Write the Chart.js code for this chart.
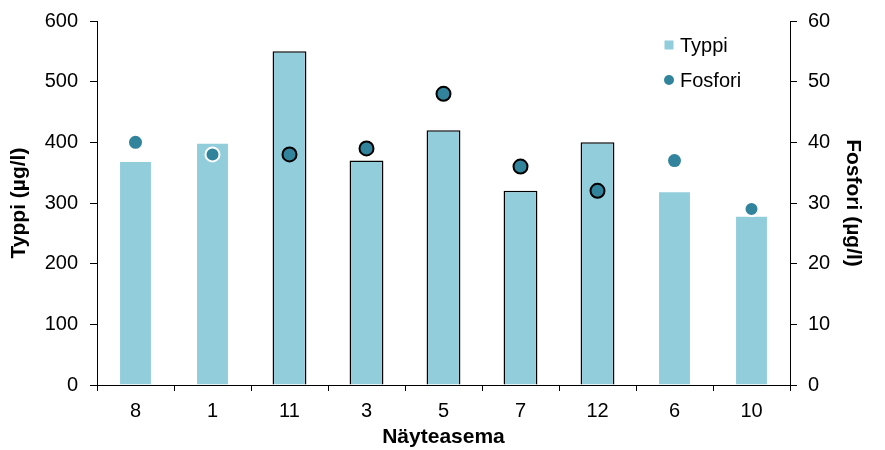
<!DOCTYPE html>
<html>
<head>
<meta charset="utf-8">
<script src="https://cdn.jsdelivr.net/npm/chart.js@4/dist/chart.umd.min.js"></script>
<style>
  body { margin: 0; background: #fff; }
  #wrap { width: 885px; height: 450px; }
</style>
</head>
<body>
<div id="wrap"><canvas id="chart" width="885" height="450"></canvas></div>
<script>
// data
const stations = ["8", "1", "11", "3", "5", "7", "12", "6", "10"];
const typpi = [370, 400, 550, 370, 420, 320, 400, 320, 280];
const fosfori = [40, 38, 38, 39, 48, 36, 32, 37, 29];
const leftTicks = [0, 100, 200, 300, 400, 500, 600];
const rightTicks = [0, 10, 20, 30, 40, 50, 60];

const barColor = "#92cddc";
const dotColor = "#31849b";
const font = "'Liberation Sans', Arial, sans-serif";

// some bars/points have an outline in the original
const none = "rgba(0,0,0,0)";
const barBorders = [none, none, "#000", "#000", "#000", "#000", "#000", none, none];
const dotBorders = [dotColor, "#fff", "#000", "#000", "#000", "#000", "#000", dotColor, "#fff"];
const dotBorderWidths = [0, 2, 2, 2, 2, 2, 2, 0, 2];
const dotRadii = [6.5, 7, 7, 7, 7, 7, 7, 6.5, 7];

// legend drawn inside the plot area, top right
const innerLegend = {
  id: "innerLegend",
  afterDraw(chart) {
    const ctx = chart.ctx;
    const x = chart.chartArea.right - 121;
    const y = chart.chartArea.top + 24;
    ctx.save();
    ctx.fillStyle = barColor;
    ctx.fillRect(x - 4.5, y - 4.5, 9, 9);
    ctx.fillStyle = dotColor;
    ctx.beginPath();
    ctx.arc(x, y + 35, 5, 0, Math.PI * 2);
    ctx.fill();
    ctx.fillStyle = "#000";
    ctx.font = "20px " + font;
    ctx.textBaseline = "middle";
    ctx.fillText("Typpi", x + 11, y + 1);
    ctx.fillText("Fosfori", x + 11, y + 36);
    ctx.restore();
  }
};

const axisLine = { display: true, color: "#000", width: 1 };
const tickFont = { family: font, size: 20 };
const titleFont = { family: font, size: 21, weight: "bold" };

// fixed axis box sizes so the plot area sits where it does in the original
function fixY(width) {
  return (s) => { s.width = width; s.paddingTop = 0; s.paddingBottom = 0; };
}

new Chart(document.getElementById("chart"), {
  data: {
    labels: stations,
    datasets: [
      {
        type: "line",
        label: "Fosfori",
        data: fosfori,
        yAxisID: "y1",
        showLine: false,
        pointRadius: dotRadii,
        pointHoverRadius: dotRadii,
        pointBackgroundColor: dotColor,
        pointBorderColor: dotBorders,
        pointBorderWidth: dotBorderWidths,
        order: 1
      },
      {
        type: "bar",
        label: "Typpi",
        data: typpi,
        yAxisID: "y",
        backgroundColor: barColor,
        borderColor: barBorders,
        borderWidth: 1.5,
        categoryPercentage: 0.88,
        barPercentage: 0.5,
        order: 2
      }
    ]
  },
  options: {
    responsive: false,
    animation: false,
    layout: { padding: { top: 21 } },
    plugins: { legend: { display: false }, tooltip: { enabled: false } },
    scales: {
      x: {
        offset: true,
        grid: { offset: true, drawOnChartArea: false, color: "#000", tickLength: 6 },
        border: axisLine,
        ticks: { color: "#000", font: tickFont, padding: 8 },
        title: { display: true, text: "Näyteasema", color: "#000", font: titleFont, padding: 0 },
        afterFit(s) { s.height = 65; }
      },
      y: {
        position: "left",
        min: 0, max: 600,
        afterBuildTicks(s) { s.ticks = leftTicks.map(v => ({ value: v })); },
        grid: { drawOnChartArea: false, color: "#000", tickLength: 7 },
        border: axisLine,
        ticks: { color: "#000", font: tickFont, padding: 12 },
        title: { display: true, text: "Typpi (µg/l)", color: "#000", font: titleFont, padding: { top: 7, bottom: 0 } },
        afterFit: fixY(97)
      },
      y1: {
        position: "right",
        min: 0, max: 60,
        afterBuildTicks(s) { s.ticks = rightTicks.map(v => ({ value: v })); },
        grid: { drawOnChartArea: false, color: "#000", tickLength: 7 },
        border: axisLine,
        ticks: { color: "#000", font: tickFont, padding: 11 },
        title: { display: true, text: "Fosfori (µg/l)", color: "#000", font: titleFont, padding: { top: 20, bottom: 0 } },
        afterFit: fixY(95)
      }
    }
  },
  plugins: [innerLegend]
});
</script>
</body>
</html>
